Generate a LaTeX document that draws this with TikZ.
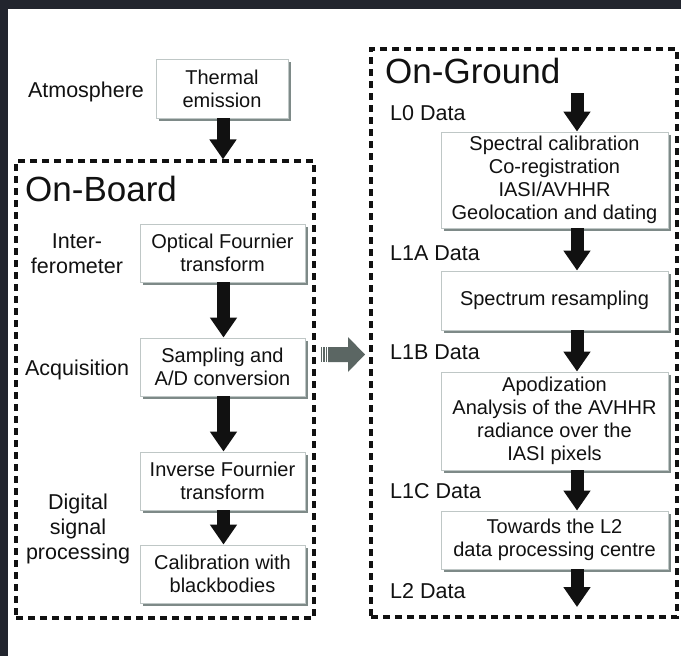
\documentclass[tikz,border=0pt]{standalone}
\usepackage{fontspec}
\setmainfont{Liberation Sans}
\usetikzlibrary{arrows.meta,shadows}
\definecolor{frame}{HTML}{22252E}
\definecolor{boxline}{HTML}{BFC7C6}
\definecolor{shadowc}{HTML}{7E8A88}
\definecolor{grayarrow}{HTML}{5B6663}
\definecolor{ink}{HTML}{111111}
\begin{document}
\begin{tikzpicture}[x=1pt,y=-1pt,
  procbox/.style={draw=boxline, line width=0.9pt, fill=white, align=center, inner sep=0pt,
    font=\fontsize{20}{23}\selectfont, text=ink,
    drop shadow={shadow xshift=3pt, shadow yshift=-3pt, fill=shadowc, opacity=1}},
  sidelabel/.style={align=center, font=\fontsize{21.5}{25}\selectfont, text=ink, inner sep=0pt},
  datalabel/.style={anchor=base west, font=\fontsize{21.5}{25}\selectfont, text=ink, inner sep=0pt},
  regiontitle/.style={anchor=base west, font=\fontsize{35}{40}\selectfont, text=ink, inner sep=0pt},
  region/.style={draw=ink, line width=3.2pt, dash pattern=on 7pt off 5pt, inner sep=0pt},
  bigarrow/.style={draw=ink, line width=13pt, -{Triangle[width=26pt,length=20pt]}},
]
\useasboundingbox (0,0) rectangle (681,656);
\fill[white] (0,0) rectangle (681,656);
\fill[frame] (0,0) rectangle (681,9);
\fill[frame] (0,0) rectangle (8,656);

% dashed regions
\node[region, minimum width=298pt, minimum height=457pt] (onboard) at (165,389.5) {};
\node[region, minimum width=306pt, minimum height=568pt] (onground) at (524,333) {};

% titles
\node[regiontitle] (obtitle) at (25,201) {On-Board};
\node[regiontitle] (ogtitle) at (385,83) {On-Ground};

% left side labels
\node[sidelabel, anchor=base] (atm) at (86,97.5) {Atmosphere};
\node[sidelabel] (inter) at (77,254) {Inter-\\ferometer};
\node[sidelabel, anchor=base] (acq) at (77,375.5) {Acquisition};
\node[sidelabel] (dsp) at (78,529) {Digital\\signal\\processing};

% left boxes
\node[procbox, minimum width=132pt, minimum height=59pt] (thermal) at (222,88.5) {Thermal\\emission};
\node[procbox, minimum width=165pt, minimum height=58pt] (optical) at (222.5,253) {Optical Fournier\\transform};
\node[procbox, minimum width=165pt, minimum height=58pt] (sampling) at (222.5,367) {Sampling and\\A/D conversion};
\node[procbox, minimum width=165pt, minimum height=58pt] (inverse) at (222.5,481) {Inverse Fournier\\transform};
\node[procbox, minimum width=165pt, minimum height=58pt] (calib) at (222.5,574) {Calibration with\\blackbodies};

% right boxes
\node[procbox, minimum width=227pt, minimum height=96pt] (spectral) at (554.5,180) {Spectral calibration\\Co-registration\\IASI/AVHHR\\Geolocation and dating};
\node[procbox, minimum width=227pt, minimum height=59pt] (resamp) at (554.5,300.5) {Spectrum resampling};
\node[procbox, minimum width=227pt, minimum height=98pt] (apod) at (554.5,421) {Apodization\\Analysis of the AVHHR\\radiance over the\\IASI pixels};
\node[procbox, minimum width=227pt, minimum height=58pt] (towards) at (554.5,540) {Towards the L2\\data processing centre};

% data labels
\node[datalabel] (l0) at (390,120.5) {L0 Data};
\node[datalabel] (l1a) at (390,260.5) {L1A Data};
\node[datalabel] (l1b) at (390,359.5) {L1B Data};
\node[datalabel] (l1c) at (390,498.5) {L1C Data};
\node[datalabel] (l2) at (390,598.5) {L2 Data};

% left arrows
\draw[bigarrow] ([xshift=1pt]thermal.south) -- ([xshift=1pt]thermal.south |- onboard.north);
\draw[bigarrow] ([xshift=1pt]optical.south) -- ([xshift=1pt]sampling.north);
\draw[bigarrow] ([xshift=1pt]sampling.south) -- ([xshift=1pt]inverse.north);
\draw[bigarrow] ([xshift=1pt]inverse.south) -- ([xshift=1pt]calib.north);

% right arrows
\coordinate (l0top) at (577,93);
\coordinate (l2end) at (577,607);
\draw[bigarrow] (l0top) -- (l0top |- spectral.north);
\draw[bigarrow] ([xshift=22.5pt]spectral.south) -- ([xshift=22.5pt]resamp.north);
\draw[bigarrow] ([xshift=22.5pt]resamp.south) -- ([xshift=22.5pt]apod.north);
\draw[bigarrow] ([xshift=22.5pt]apod.south) -- ([xshift=22.5pt]towards.north);
\draw[bigarrow] ([xshift=22.5pt]towards.south) -- (l2end);

% striped transfer arrow
\fill[grayarrow] (328,347) -- (348,347) -- (348,337) -- (365,354.5) -- (348,372) -- (348,362) -- (328,362) -- cycle;
\fill[grayarrow] (320.5,347) rectangle (322,362);
\fill[grayarrow] (323,347) rectangle (324.5,362);
\fill[grayarrow] (325.5,347) rectangle (327,362);
\end{tikzpicture}
\end{document}
